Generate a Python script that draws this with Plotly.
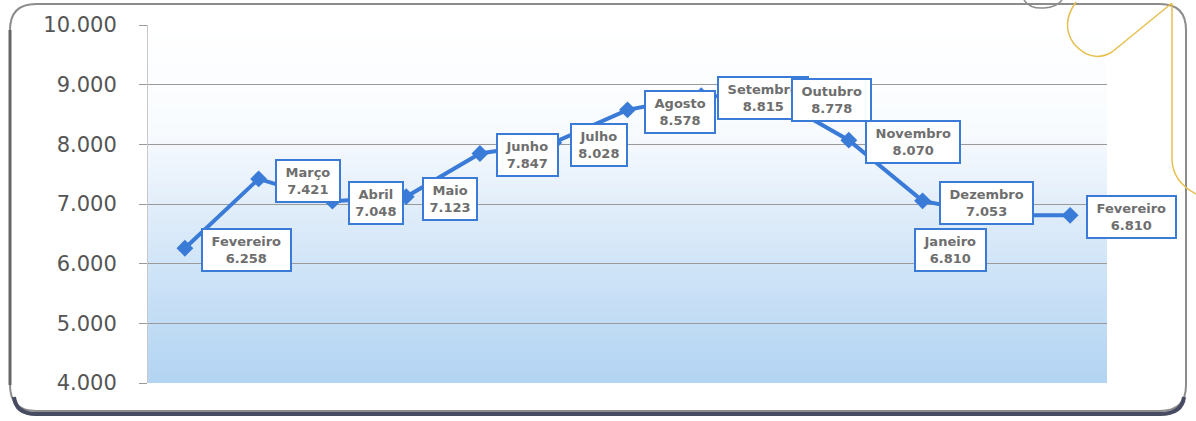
import plotly.graph_objects as go

# Monthly series
months = ["Fevereiro", "Março", "Abril", "Maio", "Junho", "Julho", "Agosto",
          "Setembro", "Outubro", "Novembro", "Dezembro", "Janeiro", "Fevereiro"]
values = [6258, 7421, 7048, 7123, 7847, 8028, 8578, 8815, 8778, 8070, 7053, 6810, 6810]
y_ticks = [4000, 5000, 6000, 7000, 8000, 9000, 10000]

W, H = 1196, 421
L, R, T, B = 148, 1107, 25, 383          # plot area in pixels


def px(x):
    return (x - L) / (R - L)


def py(y):
    return (B - y) / (B - T)


def fmt(v):
    return f"{v:,}".replace(",", ".")


LINE_BLUE = "#3a7bd8"
xs = list(range(len(months)))

fig = go.Figure()
fig.add_trace(go.Scatter(
    x=xs, y=values, mode="lines+markers",
    line=dict(color=LINE_BLUE, width=4),
    marker=dict(symbol="diamond", size=13, color=LINE_BLUE),
    hoverinfo="skip", showlegend=False, cliponaxis=False,
))

# data labels: boxed month + value, placed to the right of each point
nb = "\u00a0"
for i, (m, v) in enumerate(zip(months, values)):
    special = m == "Janeiro"
    fig.add_annotation(
        x=i, y=v, xref="x", yref="y", showarrow=False,
        text=f"<b>{nb}{m}{nb}<br>{fmt(v)}</b>",
        font=dict(family="DejaVu Sans", size=13, color="#6e6e6e"),
        align="center",
        xanchor="center" if special else "left",
        yanchor="middle",
        xshift=-46 if special else 16,
        yshift=-35 if special else -2,
        bgcolor="white", bordercolor=LINE_BLUE, borderwidth=2, borderpad=4,
    )

# vertical gradient for the plot background
stops = [(0.0, (255, 255, 255)), (0.3, (248, 251, 254)), (0.5, (226, 238, 250)),
         (0.7, (206, 227, 247)), (1.0, (178, 212, 242))]


def grad(t):
    for (t0, c0), (t1, c1) in zip(stops[:-1], stops[1:]):
        if t0 <= t <= t1:
            f = (t - t0) / (t1 - t0)
            return "rgb(%d,%d,%d)" % tuple(round(a + (b - a) * f) for a, b in zip(c0, c1))
    return "rgb(%d,%d,%d)" % stops[-1][1]


n = 90
for k in range(n):
    t = (k + 0.5) / n
    fig.add_shape(type="rect", xref="x domain", yref="y domain",
                  x0=0, x1=1, y0=1 - (k + 1) / n, y1=1 - k / n + 0.002,
                  fillcolor=grad(t), line=dict(width=0), layer="below")

# rounded outer frame
x0, x1, y0, y1, r = 10, 1186, 4, 411, 26
frame = (f"M {px(x0 + r)},{py(y0)} L {px(x1 - r)},{py(y0)} "
         f"Q {px(x1)},{py(y0)} {px(x1)},{py(y0 + r)} L {px(x1)},{py(y1 - r)} "
         f"Q {px(x1)},{py(y1)} {px(x1 - r)},{py(y1)} L {px(x0 + r)},{py(y1)} "
         f"Q {px(x0)},{py(y1)} {px(x0)},{py(y1 - r)} L {px(x0)},{py(y0 + r)} "
         f"Q {px(x0)},{py(y0)} {px(x0 + r)},{py(y0)} Z")
fig.add_shape(type="path", path=frame, xref="paper", yref="paper",
              line=dict(color="#8c8c8c", width=2), layer="above")
# darker shadow along the bottom edge
shadow = (f"M {px(x0 + 4)},{py(y1 - 14)} Q {px(x0 + 6)},{py(y1 + 3)} {px(x0 + r)},{py(y1 + 3)} "
          f"L {px(x1 - r)},{py(y1 + 3)} Q {px(x1 - 4)},{py(y1 + 3)} {px(x1 - 2)},{py(y1 - 14)}")
fig.add_shape(type="path", path=shadow, xref="paper", yref="paper",
              line=dict(color="#474c63", width=4), layer="above")
fig.add_shape(type="line", xref="paper", yref="paper",
              x0=px(x0), x1=px(x0), y0=py(y0 + r), y1=py(y1 - r),
              line=dict(color="#666666", width=3), layer="above")

# small gray arc at the top edge
fig.add_shape(type="path", xref="paper", yref="paper",
              path=f"M {px(1024)},{py(0)} Q {px(1030)},{py(9)} {px(1044)},{py(8)} Q {px(1057)},{py(7)} {px(1062)},{py(0)}",
              line=dict(color="#8c8c8c", width=1.5), layer="above")

# yellow hand-drawn highlight in the top-right corner
yellow = (f"M {px(1172)},{py(3)} L {px(1112)},{py(52)} "
          f"Q {px(1092)},{py(64)} {px(1074)},{py(44)} Q {px(1060)},{py(24)} {px(1076)},{py(2)}")
fig.add_shape(type="path", path=yellow, xref="paper", yref="paper",
              line=dict(color="#e6bf4c", width=1.5), layer="above")
yellow2 = (f"M {px(1172)},{py(4)} L {px(1172)},{py(160)} "
           f"Q {px(1173)},{py(182)} {px(1196)},{py(194)}")
fig.add_shape(type="path", path=yellow2, xref="paper", yref="paper",
              line=dict(color="#e6bf4c", width=1.5), layer="above")

fig.update_layout(
    width=W, height=H,
    margin=dict(l=L, r=W - R, t=T, b=H - B),
    paper_bgcolor="white", plot_bgcolor="white",
    separators=",.",
    showlegend=False,
)
fig.update_xaxes(range=[-0.5, len(months) - 0.5], showticklabels=False,
                 showgrid=False, zeroline=False, showline=False, ticks="")
fig.update_yaxes(range=[4000, 10000], tickvals=y_ticks,
                 ticktext=[fmt(v) for v in y_ticks],
                 tickfont=dict(family="DejaVu Sans", size=21, color="#555555"),
                 ticks="outside", ticklen=8, tickcolor="#9a9a9a",
                 ticklabelstandoff=18,
                 showgrid=True, gridcolor="#9a9a9a", gridwidth=1,
                 zeroline=False, showline=True, linecolor="#c8c8c8", linewidth=1)

fig.write_html("out.html")
